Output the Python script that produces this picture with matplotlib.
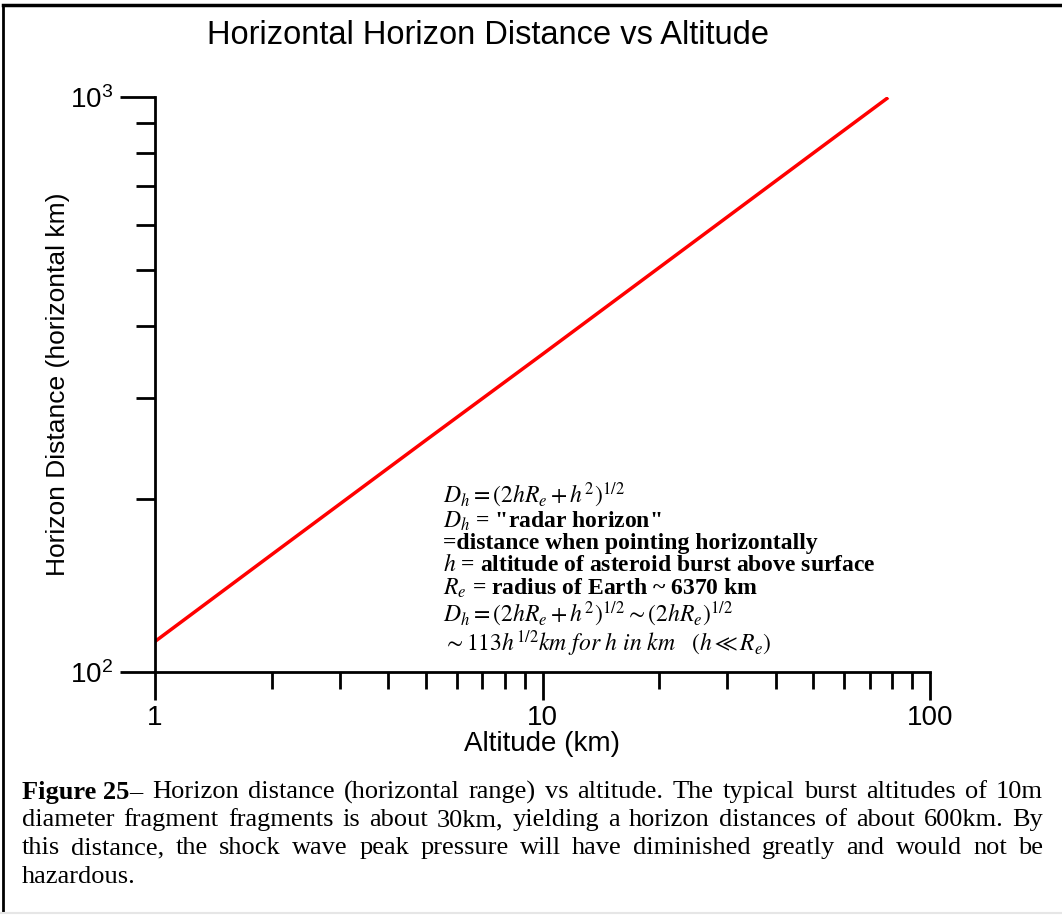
import numpy as np
import matplotlib
matplotlib.use("Agg")
import matplotlib.pyplot as plt
from matplotlib.ticker import LogLocator, NullFormatter, FixedLocator, FixedFormatter
from matplotlib.lines import Line2D

# Data (straight line on log-log axes)
altitude_km = [1, 2, 5, 10, 20, 50, 78]
horizon_km = [113, 160, 253, 357, 505, 799, 998]

x_ticks = [1, 10, 100]
x_tick_labels = ["1", "10", "100"]
y_ticks = [100, 1000]
y_tick_labels = [r"$\mathregular{10^2}$", r"$\mathregular{10^3}$"]

title = "Horizontal Horizon Distance vs Altitude"
x_label = "Altitude (km)"
y_label = "Horizon Distance (horizontal km)"

note_lines = [
    r"$D_h = (2hR_e + h^2)^{1/2}$",
    r'$D_h$ = "radar horizon"',
    r"=distance when pointing horizontally",
    r"$h$ = altitude of asteroid burst above surface",
    r"$R_e$ = radius of Earth ~ 6370 km",
    r"$D_h = (2hR_e + h^2)^{1/2} \sim (2hR_e)^{1/2}$",
    r"$\sim 113h^{1/2}km\ for\ h\ in\ km\ \ \ (h \ll R_e)$",
]

caption_bold = "Figure 25"
caption_lines = [
    "\u2013 Horizon distance (horizontal range) vs altitude. The typical burst altitudes of 10m",
    "diameter fragment fragments is about 30km, yielding a horizon distances of about 600km. By",
    "this distance, the shock wave peak pressure will have diminished greatly and would not be",
    "hazardous.",
]

plt.rcParams["font.family"] = ["Liberation Sans", "DejaVu Sans"]
plt.rcParams["mathtext.fontset"] = "stix"

W, H = 1062, 915
fig = plt.figure(figsize=(W / 100, H / 100), dpi=100)
ax = fig.add_axes([155 / W, 1 - 672 / H, 775 / W, 575 / H])

ax.plot(altitude_km, horizon_km, color="red", lw=2.5, solid_capstyle="butt")
ax.set_xscale("log")
ax.set_yscale("log")
ax.set_xlim(1, 100)
ax.set_ylim(100, 1000)

ax.xaxis.set_major_locator(FixedLocator(x_ticks))
ax.xaxis.set_major_formatter(FixedFormatter(x_tick_labels))
ax.yaxis.set_major_locator(FixedLocator(y_ticks))
ax.yaxis.set_major_formatter(FixedFormatter(y_tick_labels))
ax.xaxis.set_minor_locator(LogLocator(base=10, subs=np.arange(2, 10)))
ax.yaxis.set_minor_locator(LogLocator(base=10, subs=np.arange(2, 10)))
ax.xaxis.set_minor_formatter(NullFormatter())
ax.yaxis.set_minor_formatter(NullFormatter())

for s in ["top", "right"]:
    ax.spines[s].set_visible(False)
for s in ["left", "bottom"]:
    ax.spines[s].set_linewidth(2)

ax.tick_params(axis="both", which="major", direction="out", width=2, labelsize=20)
ax.tick_params(axis="x", which="major", length=20, pad=4)
ax.tick_params(axis="y", which="major", length=25, pad=5)
ax.tick_params(axis="x", which="minor", direction="out", length=12, width=2)
ax.tick_params(axis="y", which="minor", direction="out", length=14, width=2)

fig.text(488 / W, 1 - 36 / H, title, fontsize=23.5, ha="center", va="center")
ax.set_xlabel(x_label, fontsize=20, labelpad=0)
ax.set_ylabel(y_label, fontsize=19, labelpad=0)

# formula block as one multi-line text
fig.text(443 / W, 1 - 570 / H, "\n".join(note_lines), fontsize=17, family="Liberation Serif",
         weight="bold", va="center", ha="left", linespacing=1.0)

# caption, justified to the full width
fig.canvas.draw()
renderer = fig.canvas.get_renderer()
left_px, right_px = 22, 1043
line_y = [792, 820, 848, 877]
cap_size = 19


def text_width(s, weight="normal"):
    t = fig.text(0, 0, s, fontsize=cap_size, family="Liberation Serif", weight=weight)
    w = t.get_window_extent(renderer).width
    t.remove()
    return w


space_w = text_width("a a") - 2 * text_width("a")


def place_words(words, y_px, justify, bold_first=None):
    items = []
    if bold_first:
        items.append((bold_first, "bold"))
    items += [(w, "normal") for w in words]
    texts = [fig.text(0, 1 - y_px / H, w, fontsize=cap_size, family="Liberation Serif",
                      weight=wt, va="center", ha="left") for w, wt in items]
    widths = [t.get_window_extent(renderer).width for t in texts]
    gaps = [space_w] * (len(texts) - 1)
    fixed = set()
    if bold_first:
        gaps[0] = 0
        fixed.add(0)
    if justify:
        free = [k for k in range(len(gaps)) if k not in fixed]
        extra = right_px - left_px - sum(widths) - sum(gaps)
        for k in free:
            gaps[k] += extra / len(free)
    x = left_px
    for k, t in enumerate(texts):
        t.set_x(x / W)
        x += widths[k] + (gaps[k] if k < len(gaps) else 0)


for i, line in enumerate(caption_lines):
    words = line.split(" ")
    if i == 0:
        place_words(words, line_y[i], True, bold_first=caption_bold)
    else:
        place_words(words, line_y[i], i < 3)

# page frame
fig.add_artist(Line2D([2.5 / W, 2.5 / W], [1 - 5 / H, 1 - 912 / H], color="black", lw=2))
fig.add_artist(Line2D([2.5 / W, 1], [1 - 5 / H, 1 - 5 / H], color="black", lw=2.5))
fig.add_artist(Line2D([0, 1], [1 - 913 / H, 1 - 913 / H], color="#e6e6e6", lw=1.5))

fig.savefig("out.png", dpi=100)
